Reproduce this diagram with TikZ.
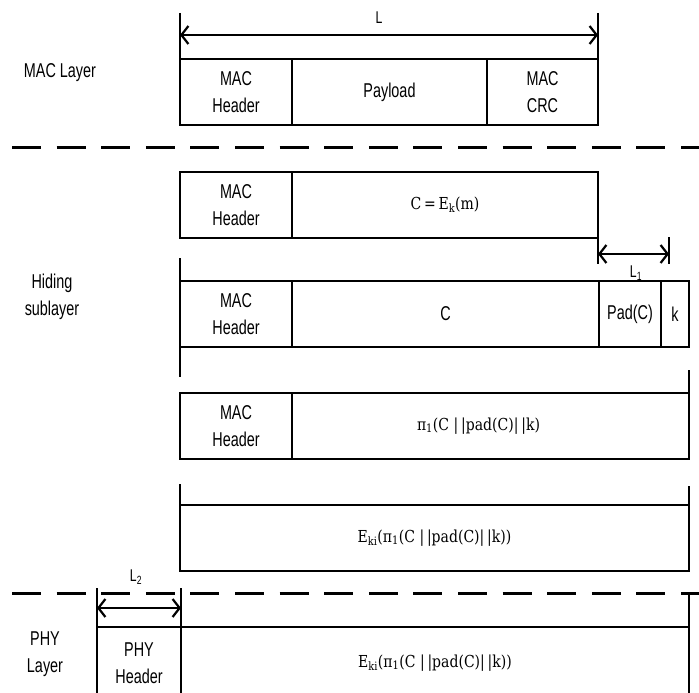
\documentclass[tikz,border=0pt]{standalone}
\usepackage{fontspec}
\newfontfamily\lblfont{Liberation Sans}[FakeStretch=0.72]
\newfontfamily\eqfont{DejaVu Serif}[FakeStretch=0.85]
\usetikzlibrary{arrows.meta}

\begin{document}
\begin{tikzpicture}[x=1pt,y=-1pt,
  field/.style={draw, line width=1.4pt, inner sep=0pt, outer sep=0pt, anchor=north west,
    minimum height=66pt, align=center, font=\lblfont\fontsize{20}{27}\selectfont},
  mathtxt/.style={font=\eqfont\fontsize{16.5}{20}\selectfont},
  edge/.style={line width=2.6pt},
  tick/.style={line width=1.4pt},
  dim/.style={line width=2.2pt, {Straight Barb[length=7pt,width=18pt]}-{Straight Barb[length=7pt,width=18pt]}},
  dimlbl/.style={font=\lblfont\fontsize{17}{17}\selectfont},
  layer/.style={font=\lblfont\fontsize{20}{27}\selectfont, align=center},
  sep/.style={line width=3pt, dash pattern=on 29pt off 15.6pt}]
\useasboundingbox (0,0) rectangle (699,693);
% MAC layer
\node[layer] (macLayer) at (60,73) {MAC Layer};
\node[field, minimum width=112pt] (hdrA) at (180,59) {MAC\\Header};
\node[field, minimum width=195pt] (payload) at (hdrA.north east) {Payload};
\node[field, minimum width=111pt] (crcA) at (payload.north east) {MAC\\CRC};
\draw[edge] (hdrA.north west) -- (crcA.north east);
\draw[edge] (hdrA.south west) -- (crcA.south east);
\coordinate (lTop) at (180,13); \coordinate (rTop) at (598,13);
\coordinate (lArr) at (180,35); \coordinate (rArr) at (598,35);
\draw[tick] (lTop) -- (hdrA.north west);
\draw[tick] (rTop) -- (crcA.north east);
\draw[dim] (lArr) -- (rArr);
\node[dimlbl] (lenL) at (379,18) {L};
\draw[sep] (12,147) -- (699,147);
% hiding sublayer
\node[layer] (hidLayer) at (52,297) {Hiding\\sublayer};
\node[field, minimum width=112pt] (hdrB) at (180,172) {MAC\\Header};
\node[field, minimum width=306pt] (cipher) at (hdrB.north east) {};
\node[mathtxt] (cipherTxt) at (cipher.center) {C\,=\,E\textsubscript{k}(m)};
\draw[edge] (hdrB.north west) -- (cipher.north east);
\draw[edge] (hdrB.south west) -- (cipher.south east);
\coordinate (lOneA) at (598,264); \coordinate (lOneB) at (669,237); \coordinate (lOneC) at (669,264);
\coordinate (lOneL) at (598,254); \coordinate (lOneR) at (669,254);
\draw[tick] (cipher.south east) -- (lOneA);
\draw[tick] (lOneB) -- (lOneC);
\draw[dim] (lOneL) -- (lOneR);
\node[dimlbl] (lenLOne) at (636,273) {L\textsubscript{1}};
\node[field, minimum width=112pt] (hdrC) at (180,281) {MAC\\Header};
\node[field, minimum width=307pt] (body) at (hdrC.north east) {C};
\node[field, minimum width=62pt] (pad) at (body.north east) {Pad(C)};
\node[field, minimum width=28pt] (key) at (pad.north east) {k};
\draw[edge] (hdrC.north west) -- (key.north east);
\draw[edge] (hdrC.south west) -- (key.south east);
\coordinate (cTop) at (180,258); \coordinate (cBot) at (180,377);
\draw[tick] (cTop) -- (hdrC.north west);
\draw[tick] (hdrC.south west) -- (cBot);
\node[field, minimum width=112pt] (hdrD) at (180,393) {MAC\\Header};
\node[field, minimum width=397pt] (perm) at (hdrD.north east) {};
\node[mathtxt] (permTxt) at ([xshift=-12pt]perm.center)
  {π\textsubscript{1}(C |\,|pad(C)|\,|k)};
\draw[edge] (hdrD.north west) -- (perm.north east);
\draw[edge] (hdrD.south west) -- (perm.south east);
\coordinate (dTop) at (689,370);
\draw[tick] (dTop) -- (perm.north east);
\node[field, minimum width=509pt] (enc) at (180,505) {};
\node[mathtxt] (encTxt) at (enc.center)
  {E\textsubscript{ki}(π\textsubscript{1}(C |\,|pad(C)|\,|k))};
\draw[edge] (enc.north west) -- (enc.north east);
\draw[edge] (enc.south west) -- (enc.south east);
\coordinate (eTopL) at (180,484); \coordinate (eTopR) at (689,486);
\draw[tick] (eTopL) -- (enc.north west);
\draw[tick] (eTopR) -- (enc.north east);
\draw[sep] (12,593) -- (699,593);
% PHY layer
\node[layer] (phyLayer) at (45,654) {PHY\\Layer};
\node[field, minimum width=84pt, minimum height=72pt] (phyHdr) at (97,627) {PHY\\Header};
\node[field, minimum width=508pt, minimum height=72pt] (phyPay) at (phyHdr.north east) {};
\node[mathtxt] (phyTxt) at (phyPay.center)
  {E\textsubscript{ki}(π\textsubscript{1}(C |\,|pad(C)|\,|k))};
\draw[edge] (phyHdr.north west) -- (phyPay.north east);
\coordinate (pTopL) at (97,588); \coordinate (pTopM) at (181,588); \coordinate (pTopR) at (689,592);
\coordinate (lTwoL) at (97,608); \coordinate (lTwoR) at (181,608);
\draw[tick] (pTopL) -- (phyHdr.north west);
\draw[tick] (pTopM) -- (phyHdr.north east);
\draw[tick] (pTopR) -- (phyPay.north east);
\draw[dim] (lTwoL) -- (lTwoR);
\node[dimlbl] (lenLTwo) at (136,577) {L\textsubscript{2}};
\end{tikzpicture}
\end{document}
